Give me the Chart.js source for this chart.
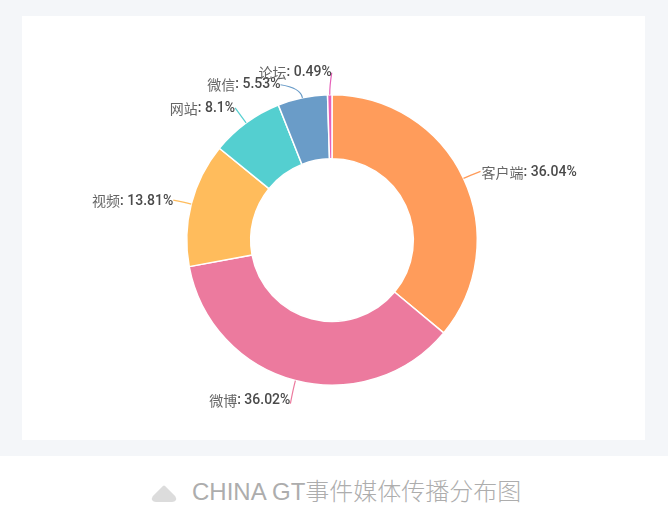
<!DOCTYPE html>
<html>
<head>
<meta charset="utf-8">
<script src="https://cdn.jsdelivr.net/npm/chart.js@4"></script>
<style>
html, body { margin: 0; padding: 0; background: #fff; }
#bg { position: absolute; left: 0; top: 0; width: 668px; height: 456px; background: #f4f6f9; }
#card { position: absolute; left: 22px; top: 16px; width: 623px; height: 424px; background: #fff; }
#icon { position: absolute; left: 150px; top: 482px; }
#caption {
    position: absolute; left: 192px; top: 474px; white-space: nowrap;
    font: 300 24px/36px "Liberation Sans", "Noto Sans CJK SC", sans-serif;
    color: #adadad;
}
</style>
</head>
<body>
<div id="bg"></div>
<div id="card"><canvas id="pie" width="623" height="424"></canvas></div>
<svg id="icon" width="28" height="22" viewBox="0 0 28 22">
    <path d="M14 5 L24 15 Q26 18.5 22 18.5 L6 18.5 Q2 18.5 4 15 Z" fill="#dcdcdc" stroke="#dcdcdc" stroke-width="3" stroke-linejoin="round"/>
</svg>
<div id="caption">CHINA GT事件媒体传播分布图</div>

<script>
// --- データ ---
const categories = ['客户端', '微博', '视频', '网站', '微信', '论坛'];
const shares = [36.04, 36.02, 13.81, 8.1, 5.53, 0.49];
const sliceColors = ['#ff9c5b', '#ec7a9e', '#ffbc5c', '#54cfd0', '#6a9cc8', '#e65fb8'];

// 引き出し線の先端（扇の外周中点からのずれ）
const leaderEnds = [[17, -7], [-5, 23], [-18, -4], [-11, -15], [-22, -13], [2, -22]];
// ラベルの上下の微調整
const labelShift = [1, -3, 1, 1, 0, 0];

// ラベルとリーダー線を描くプラグイン
const labelPlugin = {
    id: 'sliceLabels',
    afterDatasetsDraw(chart) {
        const ctx = chart.ctx;
        const arcs = chart.getDatasetMeta(0).data;
        ctx.save();
        ctx.textBaseline = 'middle';
        arcs.forEach((arc, i) => {
            const a = (arc.startAngle + arc.endAngle) / 2;
            const sx = arc.x + Math.cos(a) * arc.outerRadius;
            const sy = arc.y + Math.sin(a) * arc.outerRadius;
            const ex = sx + leaderEnds[i][0];
            const ey = sy + leaderEnds[i][1];
            const len = Math.hypot(leaderEnds[i][0], leaderEnds[i][1]);
            // 外周から少し放射方向に出してから先端へ
            const cx = sx + Math.cos(a) * len * 0.4;
            const cy = sy + Math.sin(a) * len * 0.4;
            ctx.strokeStyle = sliceColors[i];
            ctx.lineWidth = 1.2;
            ctx.beginPath();
            ctx.moveTo(sx, sy);
            ctx.quadraticCurveTo(cx, cy, ex, ey);
            ctx.stroke();

            const name = categories[i];
            const val = ': ' + shares[i] + '%';
            const nameFont = '14px "Noto Sans CJK SC"';
            const valFont = '500 14px Roboto';
            ctx.font = nameFont;
            const nw = ctx.measureText(name).width;
            ctx.font = valFont;
            const vw = ctx.measureText(val).width;
            const right = Math.cos(a) > 0.3;
            const tx = right ? ex + 1 : ex - nw - vw;
            const ty = ey + labelShift[i];
            ctx.font = nameFont;
            ctx.fillStyle = '#666';
            ctx.fillText(name, tx, ty);
            ctx.font = valFont;
            ctx.fillStyle = '#4a4a4a';
            ctx.fillText(val, tx + nw, ty);
        });
        ctx.restore();
    }
};

new Chart(document.getElementById('pie'), {
    type: 'doughnut',
    data: {
        labels: categories,
        datasets: [{
            data: shares,
            backgroundColor: sliceColors,
            borderColor: '#fff',
            borderWidth: 1.5
        }]
    },
    options: {
        responsive: false,
        animation: false,
        cutout: '56%',
        layout: { padding: { left: 164, right: 167, top: 78, bottom: 54 } },
        plugins: { legend: { display: false }, tooltip: { enabled: false } }
    },
    plugins: [labelPlugin]
});
</script>
</body>
</html>
